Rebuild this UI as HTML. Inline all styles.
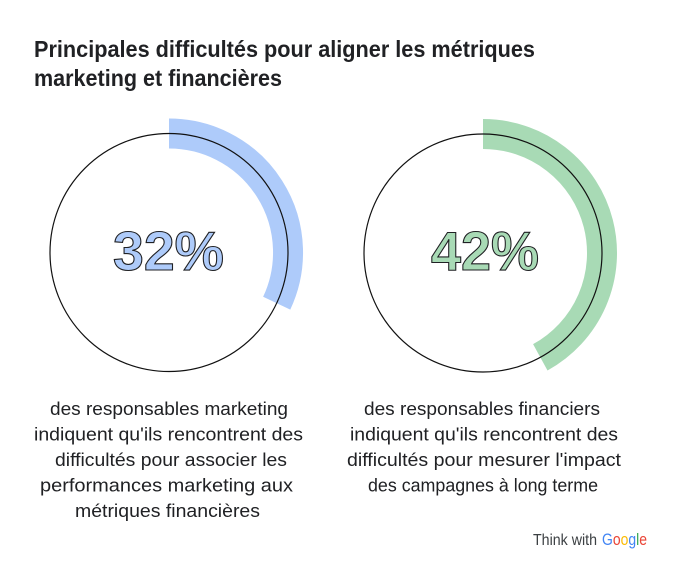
<!DOCTYPE html>
<html>
<head>
<meta charset="utf-8">
<style>
  html,body{margin:0;padding:0;background:#fff;}
  svg{display:block;}
  text{font-family:"Liberation Sans",Arial,sans-serif;}
</style>
</head>
<body>
<svg width="679" height="572" viewBox="0 0 679 572" xmlns="http://www.w3.org/2000/svg">
  <rect width="679" height="572" fill="#ffffff"/>

  <!-- Title -->
  <text x="34" y="57" font-size="23" font-weight="bold" fill="#202124" textLength="501" lengthAdjust="spacingAndGlyphs">Principales difficultés pour aligner les métriques</text>
  <text x="34" y="86" font-size="23" font-weight="bold" fill="#202124" textLength="248" lengthAdjust="spacingAndGlyphs">marketing et financières</text>

  <!-- Donut 1 -->
  <path d="M169 133.5 A119 119 0 0 1 276.7 303.2" fill="none" stroke="#aecbfa" stroke-width="30" stroke-linecap="butt"/>
  <circle cx="169" cy="252.5" r="119" fill="none" stroke="#111" stroke-width="1.2"/>
  <text x="168.5" y="270" font-size="55" font-weight="bold" text-anchor="middle" fill="#aecbfa" stroke="#202124" stroke-width="1.1" textLength="111" lengthAdjust="spacingAndGlyphs">32%</text>

  <!-- Donut 2 -->
  <path d="M483 134 A119 119 0 0 1 540.3 357.3" fill="none" stroke="#a8dab5" stroke-width="30" stroke-linecap="butt"/>
  <circle cx="483" cy="253" r="119" fill="none" stroke="#111" stroke-width="1.2"/>
  <text x="485" y="270" font-size="55" font-weight="bold" text-anchor="middle" fill="#a8dab5" stroke="#202124" stroke-width="1.1" textLength="108" lengthAdjust="spacingAndGlyphs">42%</text>

  <!-- Left caption -->
  <g font-size="18.3" fill="#202124" text-anchor="middle">
    <text x="169" y="415" textLength="238" lengthAdjust="spacingAndGlyphs">des responsables marketing</text>
    <text x="168.5" y="440.5" textLength="269" lengthAdjust="spacingAndGlyphs">indiquent qu'ils rencontrent des</text>
    <text x="171" y="466" textLength="232" lengthAdjust="spacingAndGlyphs">difficultés pour associer les</text>
    <text x="166.5" y="491.5" textLength="253" lengthAdjust="spacingAndGlyphs">performances marketing aux</text>
    <text x="167.5" y="517" textLength="185" lengthAdjust="spacingAndGlyphs">métriques financières</text>
  </g>

  <!-- Right caption -->
  <g font-size="18.3" fill="#202124" text-anchor="middle">
    <text x="482" y="415" textLength="236" lengthAdjust="spacingAndGlyphs">des responsables financiers</text>
    <text x="484" y="440.5" textLength="268" lengthAdjust="spacingAndGlyphs">indiquent qu'ils rencontrent des</text>
    <text x="484" y="466" textLength="274" lengthAdjust="spacingAndGlyphs">difficultés pour mesurer l'impact</text>
    <text x="483" y="491.5" textLength="230" lengthAdjust="spacingAndGlyphs">des campagnes à long terme</text>
  </g>

  <!-- Think with Google -->
  <text x="533" y="545" font-size="15.5" fill="#3c4043" textLength="64" lengthAdjust="spacingAndGlyphs">Think with</text>
  <text x="602" y="545" font-size="16.5" textLength="45" lengthAdjust="spacingAndGlyphs"><tspan fill="#4285F4">G</tspan><tspan fill="#EA4335">o</tspan><tspan fill="#FBBC05">o</tspan><tspan fill="#4285F4">g</tspan><tspan fill="#34A853">l</tspan><tspan fill="#EA4335">e</tspan></text>
</svg>
</body>
</html>
